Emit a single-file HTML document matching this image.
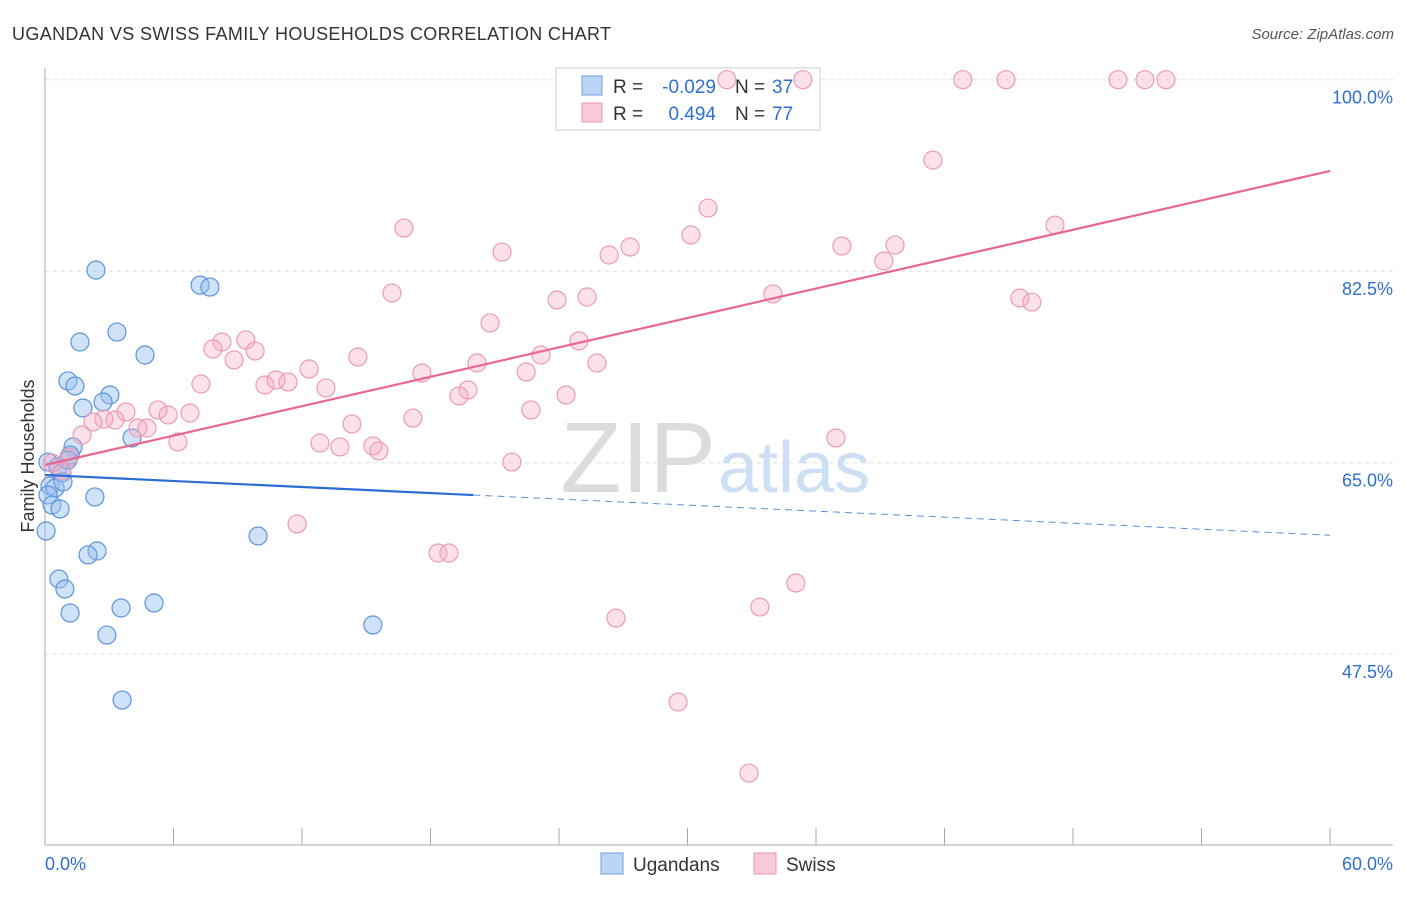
<!DOCTYPE html>
<html><head><meta charset="utf-8"><style>
body{margin:0;background:#fff;font-family:"Liberation Sans",sans-serif}
svg text{font-family:"Liberation Sans",sans-serif}
</style></head><body>
<svg id="chart" width="1406" height="892">
<text x="12" y="40" font-size="18" fill="#333" textLength="599">UGANDAN VS SWISS FAMILY HOUSEHOLDS CORRELATION CHART</text>
<text x="1394" y="39" font-size="15" fill="#555" font-style="italic" text-anchor="end">Source: ZipAtlas.com</text>
<text x="716" y="492" font-size="100" fill="#dcdcdc" text-anchor="end" font-family="Liberation Serif">ZIP</text>
<text x="718" y="492" font-size="72" fill="#cddff4">atlas</text>
<g id="grid"></g><g id="axes"></g>
<g>
<rect x="556" y="68" width="264" height="62" fill="#fff" stroke="#ccc"/>
<rect x="582" y="76" width="20" height="19" fill="#bcd5f5" stroke="#6a9fe0"/>
<rect x="582" y="103" width="20" height="19" fill="#f9c9d8" stroke="#eb93b2"/>
<text x="613" y="93" font-size="19" fill="#333">R =</text>
<text x="716" y="93" font-size="19" fill="#2f6fd0" text-anchor="end">-0.029</text>
<text x="735" y="93" font-size="19" fill="#333">N =</text>
<text x="772" y="93" font-size="19" fill="#2f6fd0">37</text>
<text x="613" y="120" font-size="19" fill="#333">R =</text>
<text x="716" y="120" font-size="19" fill="#2f6fd0" text-anchor="end">0.494</text>
<text x="735" y="120" font-size="19" fill="#333">N =</text>
<text x="772" y="120" font-size="19" fill="#2f6fd0">77</text>
</g>
<g id="marks"></g>
<text transform="translate(34,456) rotate(-90)" font-size="18" fill="#333" text-anchor="middle">Family Households</text>
<g>
<rect x="601" y="853" width="22" height="21" fill="#bcd5f5" stroke="#6a9fe0"/>
<text x="633" y="871" font-size="19" fill="#333">Ugandans</text>
<rect x="754" y="853" width="22" height="21" fill="#f9c9d8" stroke="#eb93b2"/>
<text x="786" y="871" font-size="19" fill="#333">Swiss</text>
</g>
</svg>
<script>
const yTicks=[47.5,65.0,82.5,100.0];
const xTickLabels=["0.0%","60.0%"];
const blueX=[2.38,7.24,7.70,3.36,1.63,4.67,1.07,1.40,3.03,2.71,1.77,4.06,1.31,1.17,0.14,0.61,0.79,0.23,0.47,0.84,2.33,0.14,0.33,0.70,0.05,2.43,2.01,9.95,0.65,0.93,1.17,3.55,5.09,15.31,2.89,3.60,1.07];
const blueY=[82.6,81.23,81.05,76.94,76.03,74.84,72.47,72.01,71.19,70.55,70.0,67.26,66.44,65.7,65.06,64.61,64.06,62.87,62.69,63.24,61.87,62.05,61.13,60.77,58.76,56.93,56.57,58.3,54.37,53.46,51.27,51.72,52.18,50.17,49.25,43.31,65.24];
const pinkX=[31.84,35.39,42.86,44.87,50.10,51.36,52.34,41.46,30.96,16.76,47.16,21.34,27.32,26.34,30.16,37.21,39.69,39.17,16.2,23.91,25.31,33.99,45.52,46.08,20.78,24.93,9.38,8.26,7.84,9.81,8.83,14.61,23.16,25.77,20.17,12.33,17.6,22.47,10.79,11.35,10.27,7.28,13.12,19.75,19.33,24.33,5.28,6.77,3.78,5.75,2.75,3.27,2.24,17.18,22.69,14.33,4.34,4.76,1.73,6.21,12.84,13.77,15.31,15.59,36.93,21.8,1.12,0.79,0.33,11.77,18.35,18.86,35.06,33.38,26.66,29.56,32.87];
const pinkY=[100,100,100,100,100,100,100,92.65,88.27,86.44,86.71,84.25,84.71,83.98,85.81,84.8,84.89,83.43,80.51,79.87,80.14,80.42,80.05,79.68,77.77,76.13,76.22,76.03,75.39,75.21,74.39,74.66,74.84,74.11,74.11,73.56,73.2,73.29,72.56,72.38,72.1,72.19,71.83,71.65,71.1,71.19,69.82,69.54,69.63,69.36,68.99,68.9,68.72,69.08,69.82,68.54,68.17,68.17,67.53,66.89,66.8,66.44,66.53,66.07,67.26,65.06,65.52,64.24,64.97,59.4,56.75,56.75,54.01,51.81,50.8,43.13,36.64];
const blueTrend=[63.88,58.37];
const pinkTrend=[64.79,91.66];
const NS="http://www.w3.org/2000/svg";
const xs=v=>45+v/60*1285;
const ys=v=>462.7-(v-65)*10.943;
function mk(tag,attrs,parent){const e=document.createElementNS(NS,tag);for(const k in attrs)e.setAttribute(k,attrs[k]);document.getElementById(parent).appendChild(e);return e;}
yTicks.forEach((t,i)=>{
 const l=mk('line',{x1:45,x2:1393,y1:ys(t),y2:ys(t),stroke:'#ddd','stroke-dasharray':'4,4'},'grid');
 
 
 const tx=mk('text',{x:1393,y:ys(t)+24,'font-size':18,fill:'#2f6fd0','text-anchor':'end'},'grid');
 tx.textContent=t.toFixed(1)+'%';
 
 
});
const ax=mk('line',{x1:45,x2:45,y1:68,y2:845,stroke:'#aaa'},'axes');


const bx=mk('line',{x1:45,x2:1393,y1:845,y2:845,stroke:'#aaa'},'axes');


for(let k=0;k<=10;k++){const t=mk('line',{x1:xs(k*6),x2:xs(k*6),y1:828,y2:845,stroke:'#aaa'},'axes');
 
 }
[[0,'start',45],[60,'end',1393]].forEach((d,i)=>{const t=mk('text',{x:d[2],y:870,'font-size':18,fill:'#2f6fd0','text-anchor':d[1]},'axes');t.textContent=xTickLabels[i];
 
 });
blueX.forEach((x,i)=>{const c=mk('circle',{cx:xs(x),cy:ys(blueY[i]),r:9,fill:'rgba(150,190,240,0.45)',stroke:'#5b93de','stroke-width':1.2},'marks');
 
 });
pinkX.forEach((x,i)=>{const c=mk('circle',{cx:xs(x),cy:ys(pinkY[i]),r:9,fill:'rgba(245,170,195,0.35)',stroke:'#eb9ab6','stroke-width':1.2},'marks');
 
 });
const bAt=x=>blueTrend[0]+(blueTrend[1]-blueTrend[0])*x/60;
const b1=mk('line',{x1:xs(0),y1:ys(bAt(0)),x2:xs(20),y2:ys(bAt(20)),stroke:'#2a6dd3','stroke-width':2.2},'marks');


const b2=mk('line',{x1:xs(20),y1:ys(bAt(20)),x2:xs(60),y2:ys(bAt(60)),stroke:'#5b8fd8','stroke-width':1,'stroke-dasharray':'7,5'},'marks');


const p1=mk('line',{x1:xs(0),y1:ys(pinkTrend[0]),x2:xs(60),y2:ys(pinkTrend[1]),stroke:'#e8668f','stroke-width':2.2},'marks');


</script>
</body></html>
